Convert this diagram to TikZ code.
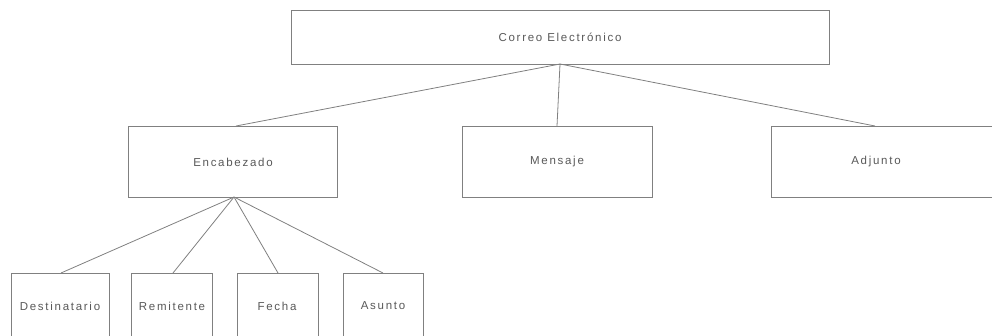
\documentclass[tikz,border=0pt]{standalone}
\usepackage{fontspec}
\setmainfont[LetterSpace=15]{Liberation Sans}
\definecolor{linegray}{rgb}{0.5,0.5,0.5}
\definecolor{textgray}{rgb}{0.35,0.35,0.35}
\begin{document}
\begin{tikzpicture}[x=1pt,y=-1pt,
  box/.style={draw=linegray,line width=1pt,fill=white,rectangle,inner sep=0pt},
  lbl/.style={text=textgray,font=\fontsize{11.5}{13}\selectfont,inner sep=0pt},
  conn/.style={draw=linegray,line width=0.8pt}]
\useasboundingbox (0,0) rectangle (992,335);
\begin{scope}
\clip (0,0) rectangle (992,335);
% top
\draw[box] (291,10) rectangle (829,64);
\coordinate (rootb) at (560,64);
\node[lbl] (root) at (560,37) {Correo Electrónico};
% level 1
\draw[box] (128,126) rectangle (337,197);
\node[lbl] (enc) at (233,162) {Encabezado};
\coordinate (enct) at (236,126);
\coordinate (encb) at (234,197);
\draw[box] (462,126) rectangle (652,197);
\node[lbl] (men) at (557,162) {Mensaje};
\coordinate (ment) at (557,126);
\draw[box] (771,126) rectangle (996,197);
\node[lbl] (adj) at (876,162) {Adjunto};
\coordinate (adjt) at (875,126);
% level 2
\draw[box] (11,273) rectangle (109,345);
\node[lbl] (des) at (60,306) {Destinatario};
\coordinate (dest) at (61,273);
\draw[box] (131,273) rectangle (212,345);
\node[lbl] (rem) at (172,306) {Remitente};
\coordinate (remt) at (173,273);
\draw[box] (237,273) rectangle (318,345);
\node[lbl] (fec) at (277,306) {Fecha};
\coordinate (fect) at (278,273);
\draw[box] (343,273) rectangle (423,345);
\node[lbl] (asu) at (383,306) {Asunto};
\coordinate (asut) at (383,273);
% connectors
\draw[conn] (rootb) -- (enct);
\draw[conn] (rootb) -- (ment);
\draw[conn] (rootb) -- (adjt);
\draw[conn] (encb) -- (dest);
\draw[conn] (encb) -- (remt);
\draw[conn] (encb) -- (fect);
\draw[conn] (encb) -- (asut);
\end{scope}
\end{tikzpicture}
\end{document}
